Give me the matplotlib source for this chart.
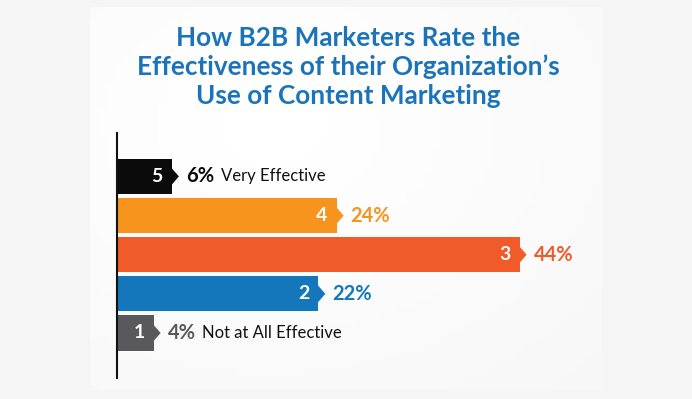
import matplotlib
matplotlib.use('Agg')
import matplotlib.pyplot as plt
from matplotlib.patches import Polygon
import numpy as np

# data (top to bottom in the picture)
ratings = ['5', '4', '3', '2', '1']
shares = [6, 24, 44, 22, 4]
extra = ['Very Effective', '', '', '', 'Not at All Effective']
bar_colors = ['#0b0b0b', '#f7941d', '#f15a29', '#1577bb', '#59595b']
label_colors = ['#0b0b0b', '#f7941d', '#f15a29', '#1577bb', '#59595b']
title = "How B2B Marketers Rate the\nEffectiveness of their Organization\u2019s\nUse of Content Marketing"

plt.rcParams['font.family'] = ['Lato', 'DejaVu Sans']

W, H = 692, 399
fig = plt.figure(figsize=(W / 100, H / 100), dpi=100, facecolor='#f5f5f5')

# light panel behind the chart
bg = fig.add_axes([90 / W, 9 / H, 512 / W, 383 / H])
gy, gx = np.mgrid[0:1:60j, 0:1:60j]
grad = 1 - 0.035 * np.sqrt((gx - 0.35) ** 2 + (gy - 0.3) ** 2)
bg.imshow(grad, cmap='gray', vmin=0, vmax=1, aspect='auto', extent=[0, 1, 0, 1])
bg.axis('off')

fig.text(348 / W, 1 - 67 / H, title, ha='center', va='center', fontsize=18.8,
         fontweight='bold', color='#1b74ba', linespacing=1.24)

ax_left, ax_right = 117, 600
ax = fig.add_axes([ax_left / W, 21 / H, (ax_right - ax_left) / W, 245 / H])
ax.patch.set_alpha(0)
px_per_pct = 9.15
ax.set_xlim(0, (ax_right - ax_left) / px_per_pct)
ax.set_ylim(-1.15, 5.11)

ypos = np.arange(len(shares))[::-1]
bar_h = 0.9
ax.barh(ypos, shares, height=bar_h, color=bar_colors, edgecolor='none')

# small arrow tips at bar ends
tip_w = 7 / px_per_pct
tip_h = 0.22
for y, v, c in zip(ypos, shares, bar_colors):
    ax.add_patch(Polygon([[v - 0.05, y - tip_h], [v + tip_w, y], [v - 0.05, y + tip_h]],
                         closed=True, color=c, lw=0))

for y, v, r, e, c in zip(ypos, shares, ratings, extra, label_colors):
    ax.annotate(r, (v, y), xytext=(-6.5, 0), textcoords='offset points', ha='right',
                va='center', color='white', fontsize=14, fontweight='bold')
    pct = ax.annotate(f'{v}%', (v, y), xytext=(10, 0), textcoords='offset points',
                      ha='left', va='center', color=c, fontsize=14.5, fontweight='bold')
    if e:
        ax.annotate(e, xy=(1, 0.5), xycoords=pct, xytext=(5, 0), textcoords='offset points',
                    ha='left', va='center', color='#111111', fontsize=12)

for s in ['top', 'right', 'bottom']:
    ax.spines[s].set_visible(False)
ax.spines['left'].set_linewidth(1.5)
ax.spines['left'].set_color('#111111')
ax.set_xticks([])
ax.set_yticks([])

fig.savefig('out.png', dpi=100, facecolor=fig.get_facecolor())
